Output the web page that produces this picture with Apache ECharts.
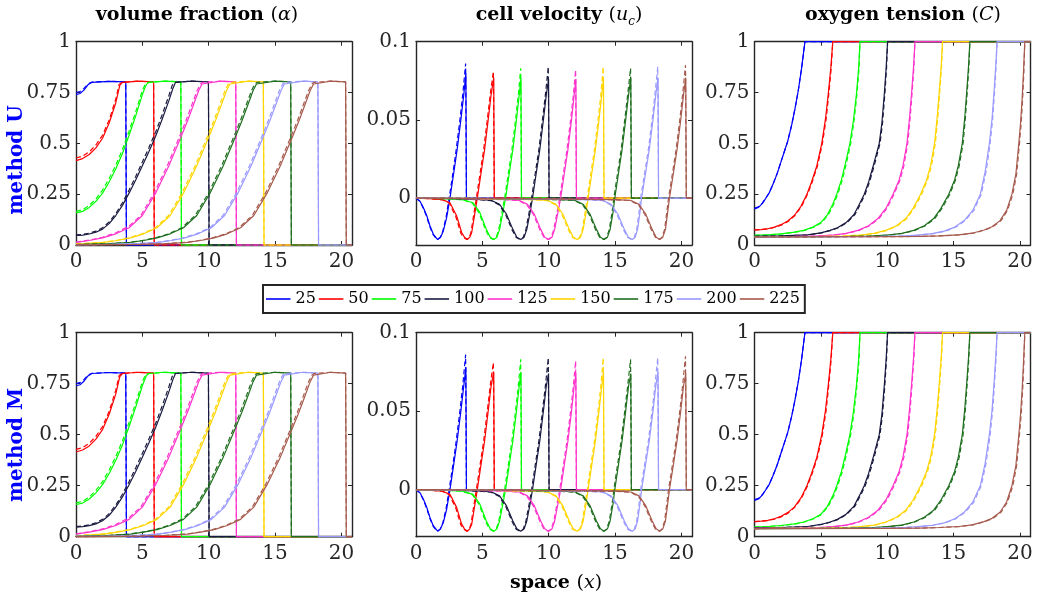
<!DOCTYPE html>
<html><head><meta charset="utf-8">
<script src="https://cdn.jsdelivr.net/npm/echarts@6/dist/echarts.min.js"></script>
<style>html,body{margin:0;padding:0;background:#fff}#c{width:1042px;height:600px}</style>
</head><body><div id="c"></div>
<script>
// ---------- tick labels / categories ----------
const times = ['25','50','75','100','125','150','175','200','225'];
const xTicks = [0,5,10,15,20];
const fracTicks = [0,0.25,0.5,0.75,1];
const velTicks = [0,0.05,0.1];

// ---------- volume fraction (alpha), solid ----------
const a25 = [[0,0.74],[0.3,0.745],[0.6,0.762],[0.9,0.788],[1.2,0.8],[2.5,0.805],[3.75,0.802],[3.8,0],[20.8,0]];
const a50 = [[0,0.415],[0.5,0.425],[1,0.445],[1.5,0.478],[2,0.525],[2.5,0.6],[3,0.7],[3.3,0.785],[3.5,0.8],[4.7,0.806],[5.85,0.802],[5.9,0],[20.8,0]];
const a75 = [[0,0.158],[0.5,0.165],[1,0.185],[1.5,0.215],[2,0.255],[2.5,0.31],[3,0.375],[3.5,0.45],[4,0.54],[4.5,0.635],[5,0.74],[5.3,0.79],[5.5,0.8],[6.7,0.806],[7.9,0.802],[7.95,0],[20.8,0]];
const a100 = [[0,0.047],[0.5,0.049],[1,0.054],[1.5,0.063],[2,0.078],[2.5,0.105],[3,0.145],[3.5,0.195],[4,0.255],[4.5,0.32],[5,0.39],[5.5,0.46],[6,0.535],[6.5,0.62],[7,0.71],[7.3,0.77],[7.5,0.8],[8.7,0.806],[9.98,0.802],[10.03,0],[20.8,0]];
const a125 = [[0,0.013],[1,0.022],[2,0.035],[3,0.055],[4,0.085],[5,0.145],[6,0.255],[7,0.39],[7.9,0.53],[8.4,0.61],[8.8,0.68],[9.25,0.76],[9.5,0.792],[9.65,0.8],[10.9,0.806],[12.04,0.802],[12.09,0],[20.8,0]];
const a150 = [[0,0.005],[0.6,0.007],[2.1,0.013],[3.1,0.022],[4.1,0.035],[5.1,0.055],[6.1,0.085],[7.1,0.145],[8.1,0.255],[9.1,0.39],[10,0.53],[10.5,0.61],[10.9,0.68],[11.35,0.76],[11.6,0.792],[11.75,0.8],[13,0.806],[14.12,0.802],[14.17,0],[20.8,0]];
const a175 = [[0,0.0015],[0.6,0.003],[2.6,0.007],[4.1,0.013],[5.1,0.022],[6.1,0.035],[7.1,0.055],[8.1,0.085],[9.1,0.145],[10.1,0.255],[11.1,0.39],[12,0.53],[12.5,0.61],[12.9,0.68],[13.35,0.76],[13.6,0.792],[13.75,0.8],[15,0.806],[16.18,0.802],[16.23,0],[20.8,0]];
const a200 = [[0,0.0012],[0.7,0.0015],[2.7,0.003],[4.7,0.007],[6.2,0.013],[7.2,0.022],[8.2,0.035],[9.2,0.055],[10.2,0.085],[11.2,0.145],[12.2,0.255],[13.2,0.39],[14.1,0.53],[14.6,0.61],[15,0.68],[15.45,0.76],[15.7,0.792],[15.85,0.8],[17.1,0.806],[18.23,0.802],[18.28,0],[20.8,0]];
const a225 = [[0,0.0003],[0.9,0.0005],[2.9,0.0015],[4.9,0.003],[6.9,0.007],[8.4,0.013],[9.4,0.022],[10.4,0.035],[11.4,0.055],[12.4,0.085],[13.4,0.145],[14.4,0.255],[15.4,0.39],[16.3,0.53],[16.8,0.61],[17.2,0.68],[17.65,0.76],[17.9,0.792],[18.05,0.8],[19.2,0.806],[20.32,0.802],[20.37,0],[20.8,0]];
// ---------- volume fraction (alpha), dashed ----------
const a25d = [[0,0.75],[0.3,0.755],[0.6,0.77],[0.9,0.792],[1.2,0.801],[2.5,0.805],[3.75,0.802],[3.8,0],[20.8,0]];
const a50d = [[0,0.428],[0.5,0.437],[1,0.458],[1.5,0.492],[2,0.54],[2.5,0.615],[3,0.718],[3.25,0.79],[3.45,0.8],[4.7,0.806],[5.85,0.802],[5.9,0],[20.8,0]];
const a75d = [[0,0.166],[0.5,0.173],[1,0.195],[1.5,0.227],[2,0.27],[2.5,0.327],[3,0.393],[3.5,0.47],[4,0.56],[4.5,0.655],[5,0.76],[5.25,0.795],[5.45,0.8],[6.7,0.806],[7.9,0.802],[7.95,0],[20.8,0]];
const a100d = [[0,0.05],[0.5,0.052],[1,0.058],[1.5,0.068],[2,0.085],[2.5,0.113],[3,0.155],[3.5,0.208],[4,0.27],[4.5,0.337],[5,0.408],[5.5,0.48],[6,0.555],[6.5,0.642],[7,0.735],[7.25,0.785],[7.4,0.8],[8.7,0.806],[9.98,0.802],[10.03,0],[20.8,0]];
const a125d = [[0,0.014],[1,0.024],[2,0.038],[3,0.06],[4,0.093],[4.88,0.145],[5.88,0.255],[6.88,0.39],[7.78,0.53],[8.28,0.61],[8.68,0.68],[9.13,0.76],[9.38,0.792],[9.55,0.8],[10.9,0.806],[12.04,0.802],[12.09,0],[20.8,0]];
const a150d = [[0,0.0055],[0.48,0.007],[1.98,0.013],[2.98,0.022],[3.98,0.035],[4.98,0.055],[5.98,0.085],[6.98,0.145],[7.98,0.255],[8.98,0.39],[9.88,0.53],[10.38,0.61],[10.78,0.68],[11.23,0.76],[11.48,0.792],[11.65,0.8],[13,0.806],[14.12,0.802],[14.17,0],[20.8,0]];
const a175d = [[0,0.0017],[0.48,0.003],[2.48,0.007],[3.98,0.013],[4.98,0.022],[5.98,0.035],[6.98,0.055],[7.98,0.085],[8.98,0.145],[9.98,0.255],[10.98,0.39],[11.88,0.53],[12.38,0.61],[12.78,0.68],[13.23,0.76],[13.48,0.792],[13.65,0.8],[15,0.806],[16.18,0.802],[16.23,0],[20.8,0]];
const a200d = [[0,0.0013],[0.58,0.0015],[2.58,0.003],[4.58,0.007],[6.08,0.013],[7.08,0.022],[8.08,0.035],[9.08,0.055],[10.08,0.085],[11.08,0.145],[12.08,0.255],[13.08,0.39],[13.98,0.53],[14.48,0.61],[14.88,0.68],[15.33,0.76],[15.58,0.792],[15.75,0.8],[17.1,0.806],[18.23,0.802],[18.28,0],[20.8,0]];
const a225d = [[0,0.0003],[0.78,0.0005],[2.78,0.0015],[4.78,0.003],[6.78,0.007],[8.28,0.013],[9.28,0.022],[10.28,0.035],[11.28,0.055],[12.28,0.085],[13.28,0.145],[14.28,0.255],[15.28,0.39],[16.18,0.53],[16.68,0.61],[17.08,0.68],[17.53,0.76],[17.78,0.792],[17.95,0.8],[19.2,0.806],[20.32,0.802],[20.37,0],[20.8,0]];

// ---------- cell velocity, method U, solid ----------
const u25 = [[0,0],[0.3,-0.002],[0.55,-0.006],[0.8,-0.011],[1.05,-0.0177],[1.3,-0.023],[1.63,-0.0265],[1.85,-0.025],[2.06,-0.021],[2.31,-0.0125],[2.56,0],[2.86,0.017],[3.1,0.031],[3.38,0.05],[3.6,0.066],[3.76,0.08],[3.8,0],[20.8,0]];
const u50 = [[0,0],[1,-0.0003],[2,-0.001],[2.56,-0.003],[3.06,-0.0113],[3.44,-0.022],[3.65,-0.025],[3.87,-0.0265],[4.05,-0.025],[4.2,-0.022],[4.45,-0.009],[4.62,0],[4.92,0.017],[5.17,0.031],[5.44,0.05],[5.66,0.066],[5.86,0.077],[5.9,0],[20.8,0]];
const u75 = [[0,0],[2,-0.0003],[3.5,-0.001],[4.3,-0.003],[4.8,-0.009],[5.3,-0.02],[5.6,-0.025],[5.87,-0.0265],[6.1,-0.025],[6.3,-0.02],[6.55,-0.009],[6.75,0],[7.05,0.017],[7.3,0.031],[7.57,0.05],[7.78,0.066],[7.91,0.077],[7.95,0],[20.8,0]];
const u100 = [[0,0],[3,-0.0003],[5,-0.001],[5.7,-0.0015],[6.3,-0.004],[6.8,-0.01],[7.3,-0.02],[7.6,-0.025],[7.9,-0.0265],[8.15,-0.025],[8.35,-0.02],[8.6,-0.009],[8.78,0],[9.08,0.017],[9.33,0.031],[9.6,0.05],[9.82,0.066],[9.99,0.076],[10.03,0],[20.8,0]];
const u125 = [[0,0],[4,-0.0003],[7,-0.001],[7.8,-0.0015],[8.4,-0.004],[8.9,-0.01],[9.4,-0.02],[9.7,-0.025],[10,-0.0265],[10.25,-0.025],[10.45,-0.02],[10.7,-0.009],[10.9,0],[11.2,0.017],[11.45,0.031],[11.72,0.05],[11.92,0.066],[12.05,0.076],[12.09,0],[20.8,0]];
const u150 = [[0,0],[5,-0.0003],[9,-0.001],[9.95,-0.0015],[10.55,-0.004],[11.05,-0.01],[11.55,-0.02],[11.85,-0.025],[12.15,-0.0265],[12.4,-0.025],[12.6,-0.02],[12.82,-0.009],[12.97,0],[13.27,0.017],[13.52,0.031],[13.79,0.05],[14,0.066],[14.13,0.077],[14.17,0],[20.8,0]];
const u175 = [[0,0],[6,-0.0003],[11,-0.001],[12,-0.0015],[12.6,-0.004],[13.1,-0.01],[13.6,-0.02],[13.9,-0.025],[14.18,-0.0265],[14.43,-0.025],[14.63,-0.02],[14.85,-0.009],[14.98,0],[15.28,0.017],[15.53,0.031],[15.8,0.05],[16.02,0.066],[16.19,0.077],[16.23,0],[20.8,0]];
const u200 = [[0,0],[7,-0.0003],[13,-0.001],[14.1,-0.0015],[14.7,-0.004],[15.2,-0.01],[15.7,-0.02],[16,-0.025],[16.3,-0.0265],[16.52,-0.025],[16.7,-0.02],[16.88,-0.009],[17,0],[17.32,0.017],[17.58,0.031],[17.86,0.05],[18.07,0.066],[18.24,0.077],[18.28,0],[20.8,0]];
const u225 = [[0,0],[8,-0.0003],[15,-0.001],[16.2,-0.0015],[16.8,-0.004],[17.3,-0.01],[17.8,-0.02],[18.1,-0.025],[18.37,-0.0265],[18.6,-0.025],[18.8,-0.02],[18.97,-0.009],[19.1,0],[19.42,0.017],[19.67,0.031],[19.95,0.05],[20.16,0.066],[20.33,0.077],[20.37,0],[20.8,0]];
// ---------- cell velocity, method M, solid ----------
const m25 = [[0,0],[0.3,-0.002],[0.55,-0.006],[0.8,-0.011],[1.05,-0.0177],[1.3,-0.023],[1.63,-0.0265],[1.85,-0.025],[2.06,-0.021],[2.31,-0.0125],[2.56,0],[2.86,0.017],[3.1,0.031],[3.38,0.05],[3.6,0.066],[3.76,0.078],[3.8,0],[20.8,0]];
const m50 = [[0,0],[1,-0.0003],[2,-0.001],[2.56,-0.003],[3.06,-0.0113],[3.44,-0.022],[3.65,-0.025],[3.87,-0.0265],[4.05,-0.025],[4.2,-0.022],[4.45,-0.009],[4.62,0],[4.92,0.017],[5.17,0.031],[5.44,0.05],[5.66,0.066],[5.86,0.075],[5.9,0],[20.8,0]];
const m75 = [[0,0],[2,-0.0003],[3.5,-0.001],[4.3,-0.003],[4.8,-0.009],[5.3,-0.02],[5.6,-0.025],[5.87,-0.0265],[6.1,-0.025],[6.3,-0.02],[6.55,-0.009],[6.75,0],[7.05,0.017],[7.3,0.031],[7.57,0.05],[7.78,0.066],[7.91,0.075],[7.95,0],[20.8,0]];
const m100 = [[0,0],[3,-0.0003],[5,-0.001],[5.7,-0.0015],[6.3,-0.004],[6.8,-0.01],[7.3,-0.02],[7.6,-0.025],[7.9,-0.0265],[8.15,-0.025],[8.35,-0.02],[8.6,-0.009],[8.78,0],[9.08,0.017],[9.33,0.031],[9.6,0.05],[9.82,0.066],[9.99,0.074],[10.03,0],[20.8,0]];
const m125 = [[0,0],[4,-0.0003],[7,-0.001],[7.8,-0.0015],[8.4,-0.004],[8.9,-0.01],[9.4,-0.02],[9.7,-0.025],[10,-0.0265],[10.25,-0.025],[10.45,-0.02],[10.7,-0.009],[10.9,0],[11.2,0.017],[11.45,0.031],[11.72,0.05],[11.92,0.066],[12.05,0.074],[12.09,0],[20.8,0]];
const m150 = [[0,0],[5,-0.0003],[9,-0.001],[9.95,-0.0015],[10.55,-0.004],[11.05,-0.01],[11.55,-0.02],[11.85,-0.025],[12.15,-0.0265],[12.4,-0.025],[12.6,-0.02],[12.82,-0.009],[12.97,0],[13.27,0.017],[13.52,0.031],[13.79,0.05],[14,0.066],[14.13,0.075],[14.17,0],[20.8,0]];
const m175 = [[0,0],[6,-0.0003],[11,-0.001],[12,-0.0015],[12.6,-0.004],[13.1,-0.01],[13.6,-0.02],[13.9,-0.025],[14.18,-0.0265],[14.43,-0.025],[14.63,-0.02],[14.85,-0.009],[14.98,0],[15.28,0.017],[15.53,0.031],[15.8,0.05],[16.02,0.066],[16.19,0.074],[16.23,0],[20.8,0]];
const m200 = [[0,0],[7,-0.0003],[13,-0.001],[14.1,-0.0015],[14.7,-0.004],[15.2,-0.01],[15.7,-0.02],[16,-0.025],[16.3,-0.0265],[16.52,-0.025],[16.7,-0.02],[16.88,-0.009],[17,0],[17.32,0.017],[17.58,0.031],[17.86,0.05],[18.07,0.066],[18.24,0.075],[18.28,0],[20.8,0]];
const m225 = [[0,0],[8,-0.0003],[15,-0.001],[16.2,-0.0015],[16.8,-0.004],[17.3,-0.01],[17.8,-0.02],[18.1,-0.025],[18.37,-0.0265],[18.6,-0.025],[18.8,-0.02],[18.97,-0.009],[19.1,0],[19.42,0.017],[19.67,0.031],[19.95,0.05],[20.16,0.066],[20.33,0.074],[20.37,0],[20.8,0]];
// ---------- cell velocity, dashed (both methods) ----------
const u25d = [[0,0],[0.3,-0.0022],[0.55,-0.0065],[0.8,-0.0118],[1.05,-0.0185],[1.3,-0.0235],[1.6,-0.0265],[1.82,-0.0252],[2.02,-0.0212],[2.26,-0.0125],[2.5,0],[2.8,0.017],[3.03,0.031],[3.31,0.05],[3.52,0.066],[3.74,0.086],[3.8,0],[20.8,0]];
const u50d = [[0,0],[1,-0.0003],[2,-0.0011],[2.5,-0.0032],[3,-0.0118],[3.38,-0.0225],[3.6,-0.0252],[3.82,-0.0265],[4,-0.0252],[4.14,-0.0222],[4.38,-0.009],[4.55,0],[4.85,0.017],[5.1,0.031],[5.37,0.05],[5.59,0.066],[5.83,0.081],[5.9,0],[20.8,0]];
const u75d = [[0,0],[2,-0.0003],[3.5,-0.0011],[4.25,-0.0032],[4.75,-0.0095],[5.25,-0.0205],[5.55,-0.0252],[5.82,-0.0265],[6.04,-0.0252],[6.23,-0.0202],[6.48,-0.009],[6.68,0],[6.98,0.017],[7.23,0.031],[7.5,0.05],[7.71,0.066],[7.89,0.083],[7.95,0],[20.8,0]];
const u100d = [[0,0],[3,-0.0003],[5,-0.0011],[5.65,-0.0016],[6.25,-0.0042],[6.75,-0.0105],[7.25,-0.0205],[7.55,-0.0252],[7.85,-0.0265],[8.08,-0.0252],[8.28,-0.0202],[8.53,-0.009],[8.71,0],[9.01,0.017],[9.26,0.031],[9.53,0.05],[9.75,0.066],[9.97,0.084],[10.03,0],[20.8,0]];
const u125d = [[0,0],[4,-0.0003],[7,-0.0011],[7.75,-0.0016],[8.35,-0.0042],[8.85,-0.0105],[9.35,-0.0205],[9.65,-0.0252],[9.95,-0.0265],[10.18,-0.0252],[10.38,-0.0202],[10.63,-0.009],[10.83,0],[11.13,0.017],[11.38,0.031],[11.65,0.05],[11.86,0.066],[12.03,0.082],[12.09,0],[20.8,0]];
const u150d = [[0,0],[5,-0.0003],[9,-0.0011],[9.9,-0.0016],[10.5,-0.0042],[11,-0.0105],[11.5,-0.0205],[11.8,-0.0252],[12.1,-0.0265],[12.33,-0.0252],[12.53,-0.0202],[12.75,-0.009],[12.9,0],[13.2,0.017],[13.45,0.031],[13.72,0.05],[13.93,0.066],[14.11,0.084],[14.17,0],[20.8,0]];
const u175d = [[0,0],[6,-0.0003],[11,-0.0011],[11.95,-0.0016],[12.55,-0.0042],[13.05,-0.0105],[13.55,-0.0205],[13.85,-0.0252],[14.13,-0.0265],[14.36,-0.0252],[14.56,-0.0202],[14.78,-0.009],[14.91,0],[15.21,0.017],[15.46,0.031],[15.73,0.05],[15.95,0.066],[16.17,0.083],[16.23,0],[20.8,0]];
const u200d = [[0,0],[7,-0.0003],[13,-0.0011],[14.05,-0.0016],[14.65,-0.0042],[15.15,-0.0105],[15.65,-0.0205],[15.95,-0.0252],[16.25,-0.0265],[16.45,-0.0252],[16.63,-0.0202],[16.81,-0.009],[16.93,0],[17.25,0.017],[17.51,0.031],[17.79,0.05],[18,0.066],[18.22,0.084],[18.28,0],[20.8,0]];
const u225d = [[0,0],[8,-0.0003],[15,-0.0011],[16.15,-0.0016],[16.75,-0.0042],[17.25,-0.0105],[17.75,-0.0205],[18.05,-0.0252],[18.32,-0.0265],[18.53,-0.0252],[18.73,-0.0202],[18.9,-0.009],[19.03,0],[19.35,0.017],[19.6,0.031],[19.88,0.05],[20.09,0.066],[20.31,0.085],[20.37,0],[20.8,0]];

// ---------- oxygen tension, solid ----------
const c25 = [[0,0.178],[0.3,0.185],[0.6,0.205],[0.9,0.235],[1.1,0.255],[1.4,0.3],[1.7,0.35],[2,0.41],[2.3,0.47],[2.5,0.51],[2.8,0.59],[3.05,0.67],[3.3,0.76],[3.55,0.87],[3.8,1],[20.8,1]];
const c50 = [[0,0.074],[0.5,0.076],[1,0.08],[1.5,0.088],[2,0.1],[2.5,0.118],[3,0.145],[3.5,0.19],[3.95,0.25],[4.3,0.31],[4.7,0.39],[5.07,0.5],[5.35,0.62],[5.57,0.75],[5.75,0.87],[5.9,1],[20.8,1]];
const c75 = [[0,0.048],[1,0.05],[2,0.055],[3,0.063],[3.7,0.072],[4.4,0.088],[5,0.11],[5.5,0.15],[5.9,0.2],[6.2,0.25],[6.55,0.32],[6.85,0.4],[7.19,0.5],[7.45,0.61],[7.68,0.74],[7.85,0.87],[7.95,1],[20.8,1]];
const c100 = [[0,0.043],[2,0.045],[4,0.05],[5,0.06],[5.7,0.072],[6.25,0.085],[6.9,0.11],[7.5,0.15],[7.9,0.2],[8.27,0.25],[8.6,0.31],[8.95,0.39],[9.4,0.5],[9.6,0.6],[9.78,0.74],[9.92,0.87],[10.03,1],[20.8,1]];
const c125 = [[0,0.041],[3.1,0.042],[4.6,0.044],[5.9,0.049],[6.9,0.057],[7.8,0.072],[8.6,0.095],[9.3,0.13],[9.9,0.18],[10.44,0.25],[10.9,0.32],[11.19,0.39],[11.49,0.5],[11.69,0.63],[11.84,0.75],[11.99,0.88],[12.09,1],[20.8,1]];
const c150 = [[0,0.04],[3,0.041],[5.2,0.042],[6.7,0.044],[8,0.049],[9,0.057],[9.9,0.072],[10.7,0.095],[11.4,0.13],[11.95,0.18],[12.52,0.25],[12.97,0.32],[13.27,0.39],[13.57,0.5],[13.77,0.63],[13.92,0.75],[14.07,0.88],[14.17,1],[20.8,1]];
const c175 = [[0,0.04],[5,0.041],[7.2,0.042],[8.7,0.044],[10,0.049],[11.1,0.057],[12,0.072],[12.8,0.095],[13.5,0.13],[14.05,0.18],[14.64,0.25],[15.08,0.32],[15.36,0.39],[15.66,0.5],[15.85,0.63],[15.99,0.75],[16.13,0.88],[16.23,1],[20.8,1]];
const c200 = [[0,0.04],[7,0.041],[9.5,0.042],[11,0.044],[12.3,0.049],[13.4,0.056],[14.3,0.068],[15.1,0.088],[15.8,0.12],[16.45,0.17],[17.02,0.25],[17.38,0.36],[17.7,0.5],[17.9,0.62],[18.05,0.75],[18.18,0.88],[18.28,1],[20.8,1]];
const c225 = [[0,0.04],[10,0.041],[12.4,0.042],[13.9,0.045],[15.4,0.05],[16.4,0.058],[17.3,0.074],[17.9,0.09],[18.5,0.12],[19,0.17],[19.4,0.25],[19.7,0.35],[19.92,0.5],[20.05,0.6],[20.17,0.72],[20.27,0.85],[20.37,1],[20.8,1]];
// ---------- oxygen tension, dashed ----------
const c25d = [[0,0.182],[0.3,0.188],[0.6,0.207],[0.9,0.236],[1.1,0.256],[1.4,0.3],[1.7,0.35],[2,0.41],[2.3,0.47],[2.5,0.51],[2.8,0.59],[3.05,0.67],[3.3,0.76],[3.55,0.87],[3.8,1],[20.8,1]];
const c50d = [[0,0.074],[0.5,0.076],[1,0.079],[1.5,0.086],[2,0.097],[2.5,0.114],[3.05,0.145],[3.55,0.19],[4,0.25],[4.35,0.31],[4.75,0.39],[5.12,0.5],[5.4,0.62],[5.61,0.75],[5.78,0.87],[5.9,1],[20.8,1]];
const c75d = [[0,0.048],[1,0.05],[2,0.054],[3,0.062],[3.77,0.072],[4.47,0.088],[5.07,0.11],[5.57,0.15],[5.97,0.2],[6.27,0.25],[6.62,0.32],[6.92,0.4],[7.25,0.5],[7.5,0.61],[7.72,0.74],[7.88,0.87],[7.95,1],[20.8,1]];
const c100d = [[0,0.043],[2,0.045],[4,0.049],[5.07,0.06],[5.77,0.072],[6.32,0.085],[6.97,0.11],[7.57,0.15],[7.97,0.2],[8.34,0.25],[8.67,0.31],[9.02,0.39],[9.46,0.5],[9.65,0.6],[9.82,0.74],[9.95,0.87],[10.03,1],[20.8,1]];
const c125d = [[0,0.041],[3.2,0.042],[4.7,0.044],[6,0.049],[7,0.057],[7.88,0.072],[8.68,0.095],[9.38,0.13],[9.98,0.18],[10.52,0.25],[10.97,0.32],[11.26,0.39],[11.55,0.5],[11.74,0.63],[11.88,0.75],[12.02,0.88],[12.09,1],[20.8,1]];
const c150d = [[0,0.04],[3.1,0.041],[5.3,0.042],[6.8,0.044],[8.1,0.049],[9.08,0.057],[9.98,0.072],[10.78,0.095],[11.48,0.13],[12.03,0.18],[12.6,0.25],[13.04,0.32],[13.34,0.39],[13.63,0.5],[13.82,0.63],[13.96,0.75],[14.1,0.88],[14.17,1],[20.8,1]];
const c175d = [[0,0.04],[5.1,0.041],[7.3,0.042],[8.8,0.044],[10.1,0.049],[11.18,0.057],[12.08,0.072],[12.88,0.095],[13.58,0.13],[14.13,0.18],[14.72,0.25],[15.15,0.32],[15.43,0.39],[15.72,0.5],[15.9,0.63],[16.03,0.75],[16.16,0.88],[16.23,1],[20.8,1]];
const c200d = [[0,0.04],[7.1,0.041],[9.6,0.042],[11.1,0.044],[12.4,0.049],[13.48,0.056],[14.38,0.068],[15.18,0.088],[15.88,0.12],[16.53,0.17],[17.09,0.25],[17.45,0.36],[17.76,0.5],[17.95,0.62],[18.09,0.75],[18.21,0.88],[18.28,1],[20.8,1]];
const c225d = [[0,0.04],[10.1,0.041],[12.5,0.042],[14,0.045],[15.5,0.05],[16.48,0.058],[17.38,0.074],[17.98,0.09],[18.58,0.12],[19.07,0.17],[19.47,0.25],[19.76,0.35],[19.97,0.5],[20.1,0.6],[20.21,0.72],[20.3,0.85],[20.37,1],[20.8,1]];

// ---------- grouping ----------
const alphaSolid = [a25,a50,a75,a100,a125,a150,a175,a200,a225];
const alphaDash  = [a25d,a50d,a75d,a100d,a125d,a150d,a175d,a200d,a225d];
const velUSolid  = [u25,u50,u75,u100,u125,u150,u175,u200,u225];
const velMSolid  = [m25,m50,m75,m100,m125,m150,m175,m200,m225];
const velDash    = [u25d,u50d,u75d,u100d,u125d,u150d,u175d,u200d,u225d];
const oxySolid   = [c25,c50,c75,c100,c125,c150,c175,c200,c225];
const oxyDash    = [c25d,c50d,c75d,c100d,c125d,c150d,c175d,c200d,c225d];

// ---------- styling ----------
const colors = ['#0000ff','#ff0000','#00ff00','#1a1a40','#ff33cc','#ffd500','#1f6f1f','#9999ff','#a65a4d'];
const FONT = 'DejaVu Serif';
const AX = '#262626';
const XMAX = 20.8;

const panels = [
  {left:76,  top:41.7,  w:276, h:203.3, solid:alphaSolid, dash:alphaDash, min:0, max:1, ticks:fracTicks},
  {left:416, top:41.7,  w:276, h:203.3, solid:velUSolid,  dash:velDash,   min:-0.03, max:0.1, ticks:velTicks},
  {left:754.5, top:41.7, w:276, h:203.3, solid:oxySolid,  dash:oxyDash,   min:0, max:1, ticks:fracTicks},
  {left:76,  top:332.7, w:276, h:204, solid:alphaSolid, dash:alphaDash, min:0, max:1, ticks:fracTicks},
  {left:416, top:332.7, w:276, h:204, solid:velMSolid,  dash:velDash,   min:-0.03, max:0.1, ticks:velTicks},
  {left:754.5, top:332.7, w:276, h:204, solid:oxySolid,  dash:oxyDash,   min:0, max:1, ticks:fracTicks}
];

const grid = [], xAxis = [], yAxis = [], series = [];
panels.forEach((p, g) => {
  grid.push({left:p.left, top:p.top, width:p.w, height:p.h, show:false, containLabel:false});
  const axLine = {show:true, onZero:false, lineStyle:{color:AX, width:1.4}};
  const tick = (vals) => ({show:true, inside:true, length:4, customValues:vals, lineStyle:{color:AX, width:1}});
  ['bottom','top'].forEach((pos, i) => {
    xAxis.push({gridIndex:g, type:'value', min:0, max:XMAX, position:pos,
      axisLine:axLine, axisTick:tick(xTicks), splitLine:{show:false},
      axisLabel:{show:i===0, customValues:xTicks, fontFamily:FONT, fontSize:20, color:AX, margin:7}});
  });
  ['left','right'].forEach((pos, i) => {
    yAxis.push({gridIndex:g, type:'value', min:p.min, max:p.max, position:pos,
      axisLine:axLine, axisTick:tick(p.ticks), splitLine:{show:false},
      axisLabel:{show:i===0, customValues:p.ticks, fontFamily:FONT, fontSize:20, color:AX, margin:5}});
  });
  for (let k = 0; k < 9; k++) {
    series.push({type:'line', name:times[k], xAxisIndex:2*g, yAxisIndex:2*g, data:p.solid[k],
      symbol:'none', clip:false, animation:false, silent:true,
      lineStyle:{color:colors[k], width:1.2}, itemStyle:{color:colors[k]}});
    series.push({type:'line', name:times[k]+' dashed', xAxisIndex:2*g, yAxisIndex:2*g, data:p.dash[k],
      symbol:'none', clip:false, animation:false, silent:true,
      lineStyle:{color:colors[k], width:1.2, type:[5,3]}, itemStyle:{color:colors[k]}});
  }
});

function txt(x, y, text, rich, extra) {
  return Object.assign({type:'text', x:x, y:y, silent:true,
    style:{text:text, rich:rich, align:'center', verticalAlign:'middle', textAlign:'center', textVerticalAlign:'middle',
      fontFamily:FONT, fontSize:19, fontWeight:'bold', fill:'#000'}}, extra||{});
}
const TS = 19;
const richT = {
  b:{fontFamily:FONT, fontSize:TS, fontWeight:'bold', fill:'#000', lineHeight:26, verticalAlign:'middle'},
  n:{fontFamily:FONT, fontSize:TS, fill:'#000', lineHeight:26, verticalAlign:'middle'},
  i:{fontFamily:FONT, fontSize:TS, fontStyle:'italic', fill:'#000', lineHeight:26, verticalAlign:'middle'},
  s:{fontFamily:FONT, fontSize:12, fontStyle:'italic', fill:'#000', lineHeight:26, verticalAlign:'bottom'}
};
const richB = {
  b:{fontFamily:FONT, fontSize:20, fontWeight:'bold', fill:'#0000ff'}
};

const option = {
  backgroundColor:'#fff',
  animation:false,
  grid:grid, xAxis:xAxis, yAxis:yAxis, series:series,
  legend:{
    data:times, left:263, top:285, orient:'horizontal', selectedMode:false,
    icon:'rect', padding:[6,5,6,3], itemGap:3, itemWidth:24.5, itemHeight:1.6,
    borderColor:AX, borderWidth:2, backgroundColor:'#fff',
    textStyle:{fontFamily:FONT, fontSize:16, color:'#000'}
  },
  graphic:[
    txt(197, 15, '{b|volume fraction} {n|(}{i|α}{n|)}', richT),
    txt(559, 15, '{b|cell velocity} {n|(}{i|u}{s|c}{n|)}', richT),
    txt(903, 15, '{b|oxygen tension} {n|(}{i|C}{n|)}', richT),
    txt(556, 583, '{b|space} {n|(}{i|x}{n|)}', richT),
    txt(17, 160, '{b|method U}', richB, {rotation:Math.PI/2}),
    txt(17, 445, '{b|method M}', richB, {rotation:Math.PI/2})
  ]
};
const chart = echarts.init(document.getElementById('c'), null, {renderer:'canvas', width:1042, height:600});
chart.setOption(option);
</script></body></html>
